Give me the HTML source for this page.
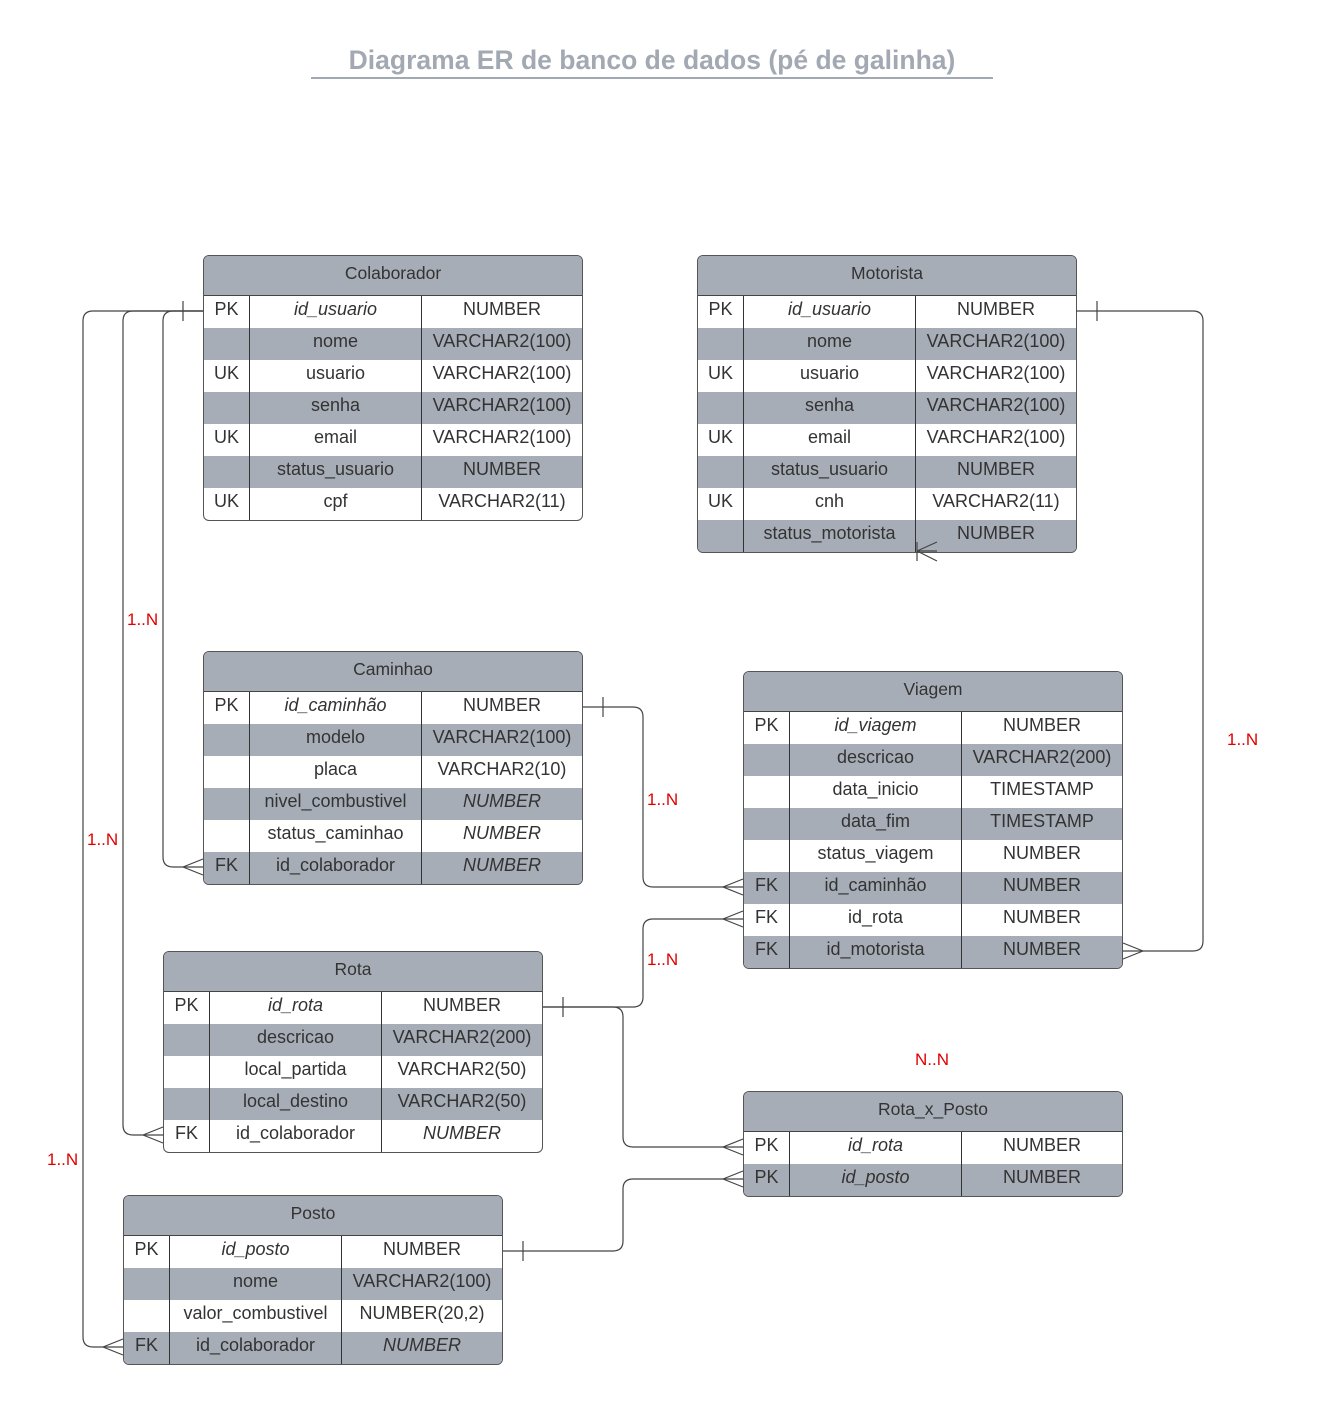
<!DOCTYPE html>
<html><head><meta charset="utf-8"><style>
html,body{margin:0;padding:0;background:#fff;}
body{width:1327px;height:1427px;position:relative;overflow:hidden;font-family:"Liberation Sans",sans-serif;}
.title{position:absolute;left:311px;width:682px;top:45px;text-align:center;font-size:26.5px;font-weight:bold;color:#a3a9b3;}
.uline{position:absolute;left:311px;width:682px;top:77px;height:2px;background:#a3a9b3;}
.t{position:absolute;width:378px;border:1px solid #555;border-radius:6px;overflow:hidden;background:#fff;}
.h{height:39px;line-height:35px;text-align:center;font-size:17.5px;color:#333;background:#a7adb7;border-bottom:1px solid #444;}
.r{height:32px;display:flex;font-size:18px;color:#333;line-height:27px;}
.r.g{background:#a7adb7;}
.r div{text-align:center;box-sizing:border-box;white-space:nowrap;}
.r div:nth-child(1){width:46px;border-right:1px solid #333;}
.r div:nth-child(2){width:172px;border-right:1px solid #333;}
.r div:nth-child(3){flex:1;}
i{font-style:italic;}
svg{position:absolute;left:0;top:0;}
.lbl{position:absolute;color:#e00000;font-size:17px;}
</style></head><body>
<div class="title">Diagrama ER de banco de dados (pé de galinha)</div>
<div class="uline"></div>

<div class="t" style="left:203px;top:255px">
<div class="h">Colaborador</div>
<div class="r"><div>PK</div><div><i>id_usuario</i></div><div>NUMBER</div></div>
<div class="r g"><div></div><div>nome</div><div>VARCHAR2(100)</div></div>
<div class="r"><div>UK</div><div>usuario</div><div>VARCHAR2(100)</div></div>
<div class="r g"><div></div><div>senha</div><div>VARCHAR2(100)</div></div>
<div class="r"><div>UK</div><div>email</div><div>VARCHAR2(100)</div></div>
<div class="r g"><div></div><div>status_usuario</div><div>NUMBER</div></div>
<div class="r"><div>UK</div><div>cpf</div><div>VARCHAR2(11)</div></div>
</div>

<div class="t" style="left:697px;top:255px">
<div class="h">Motorista</div>
<div class="r"><div>PK</div><div><i>id_usuario</i></div><div>NUMBER</div></div>
<div class="r g"><div></div><div>nome</div><div>VARCHAR2(100)</div></div>
<div class="r"><div>UK</div><div>usuario</div><div>VARCHAR2(100)</div></div>
<div class="r g"><div></div><div>senha</div><div>VARCHAR2(100)</div></div>
<div class="r"><div>UK</div><div>email</div><div>VARCHAR2(100)</div></div>
<div class="r g"><div></div><div>status_usuario</div><div>NUMBER</div></div>
<div class="r"><div>UK</div><div>cnh</div><div>VARCHAR2(11)</div></div>
<div class="r g"><div></div><div>status_motorista</div><div>NUMBER</div></div>
</div>

<div class="t" style="left:203px;top:651px">
<div class="h">Caminhao</div>
<div class="r"><div>PK</div><div><i>id_caminhão</i></div><div>NUMBER</div></div>
<div class="r g"><div></div><div>modelo</div><div>VARCHAR2(100)</div></div>
<div class="r"><div></div><div>placa</div><div>VARCHAR2(10)</div></div>
<div class="r g"><div></div><div>nivel_combustivel</div><div><i>NUMBER</i></div></div>
<div class="r"><div></div><div>status_caminhao</div><div><i>NUMBER</i></div></div>
<div class="r g"><div>FK</div><div>id_colaborador</div><div><i>NUMBER</i></div></div>
</div>

<div class="t" style="left:743px;top:671px">
<div class="h">Viagem</div>
<div class="r"><div>PK</div><div><i>id_viagem</i></div><div>NUMBER</div></div>
<div class="r g"><div></div><div>descricao</div><div>VARCHAR2(200)</div></div>
<div class="r"><div></div><div>data_inicio</div><div>TIMESTAMP</div></div>
<div class="r g"><div></div><div>data_fim</div><div>TIMESTAMP</div></div>
<div class="r"><div></div><div>status_viagem</div><div>NUMBER</div></div>
<div class="r g"><div>FK</div><div>id_caminhão</div><div>NUMBER</div></div>
<div class="r"><div>FK</div><div>id_rota</div><div>NUMBER</div></div>
<div class="r g"><div>FK</div><div>id_motorista</div><div>NUMBER</div></div>
</div>

<div class="t" style="left:163px;top:951px">
<div class="h">Rota</div>
<div class="r"><div>PK</div><div><i>id_rota</i></div><div>NUMBER</div></div>
<div class="r g"><div></div><div>descricao</div><div>VARCHAR2(200)</div></div>
<div class="r"><div></div><div>local_partida</div><div>VARCHAR2(50)</div></div>
<div class="r g"><div></div><div>local_destino</div><div>VARCHAR2(50)</div></div>
<div class="r"><div>FK</div><div>id_colaborador</div><div><i>NUMBER</i></div></div>
</div>

<div class="t" style="left:743px;top:1091px">
<div class="h">Rota_x_Posto</div>
<div class="r"><div>PK</div><div><i>id_rota</i></div><div>NUMBER</div></div>
<div class="r g"><div>PK</div><div><i>id_posto</i></div><div>NUMBER</div></div>
</div>

<div class="t" style="left:123px;top:1195px">
<div class="h">Posto</div>
<div class="r"><div>PK</div><div><i>id_posto</i></div><div>NUMBER</div></div>
<div class="r g"><div></div><div>nome</div><div>VARCHAR2(100)</div></div>
<div class="r"><div></div><div>valor_combustivel</div><div>NUMBER(20,2)</div></div>
<div class="r g"><div>FK</div><div>id_colaborador</div><div><i>NUMBER</i></div></div>
</div>

<svg width="1327" height="1427" fill="none" stroke="#444" stroke-width="1.2">
<path d="M203 311 H173 Q163 311 163 321 V857 Q163 867 173 867 H203"/>
<path d="M203 311 H133 Q123 311 123 321 V1125 Q123 1135 133 1135 H163"/>
<path d="M203 311 H93 Q83 311 83 321 V1337 Q83 1347 93 1347 H123"/>
<path d="M183 301 V321"/>
<path d="M183 867 L203 859 M183 867 L203 875"/>
<path d="M143 1135 L163 1127 M143 1135 L163 1143"/>
<path d="M103 1347 L123 1339 M103 1347 L123 1355"/>
<path d="M583 707 H633 Q643 707 643 717 V877 Q643 887 653 887 H743"/>
<path d="M603 697 V717"/>
<path d="M723 887 L743 879 M723 887 L743 895"/>
<path d="M543 1007 H633 Q643 1007 643 997 V929 Q643 919 653 919 H743"/>
<path d="M563 997 V1017"/>
<path d="M723 919 L743 911 M723 919 L743 927"/>
<path d="M543 1007 H613 Q623 1007 623 1017 V1137 Q623 1147 633 1147 H743"/>
<path d="M723 1147 L743 1139 M723 1147 L743 1155"/>
<path d="M503 1251 H613 Q623 1251 623 1241 V1189 Q623 1179 633 1179 H743"/>
<path d="M523 1241 V1261"/>
<path d="M723 1179 L743 1171 M723 1179 L743 1187"/>
<path d="M1076 311 H1193 Q1203 311 1203 321 V941 Q1203 951 1193 951 H1123"/>
<path d="M1097 301 V321"/>
<path d="M1143 951 L1123 943 M1143 951 L1123 959"/>
<path d="M917 542 V561 M917 551 L937 542 M917 551 L937 561 M917 551 H937"/>
</svg>

<div class="lbl" style="left:127px;top:610px">1..N</div>
<div class="lbl" style="left:87px;top:830px">1..N</div>
<div class="lbl" style="left:47px;top:1150px">1..N</div>
<div class="lbl" style="left:647px;top:790px">1..N</div>
<div class="lbl" style="left:647px;top:950px">1..N</div>
<div class="lbl" style="left:1227px;top:730px">1..N</div>
<div class="lbl" style="left:915px;top:1050px">N..N</div>
</body></html>
